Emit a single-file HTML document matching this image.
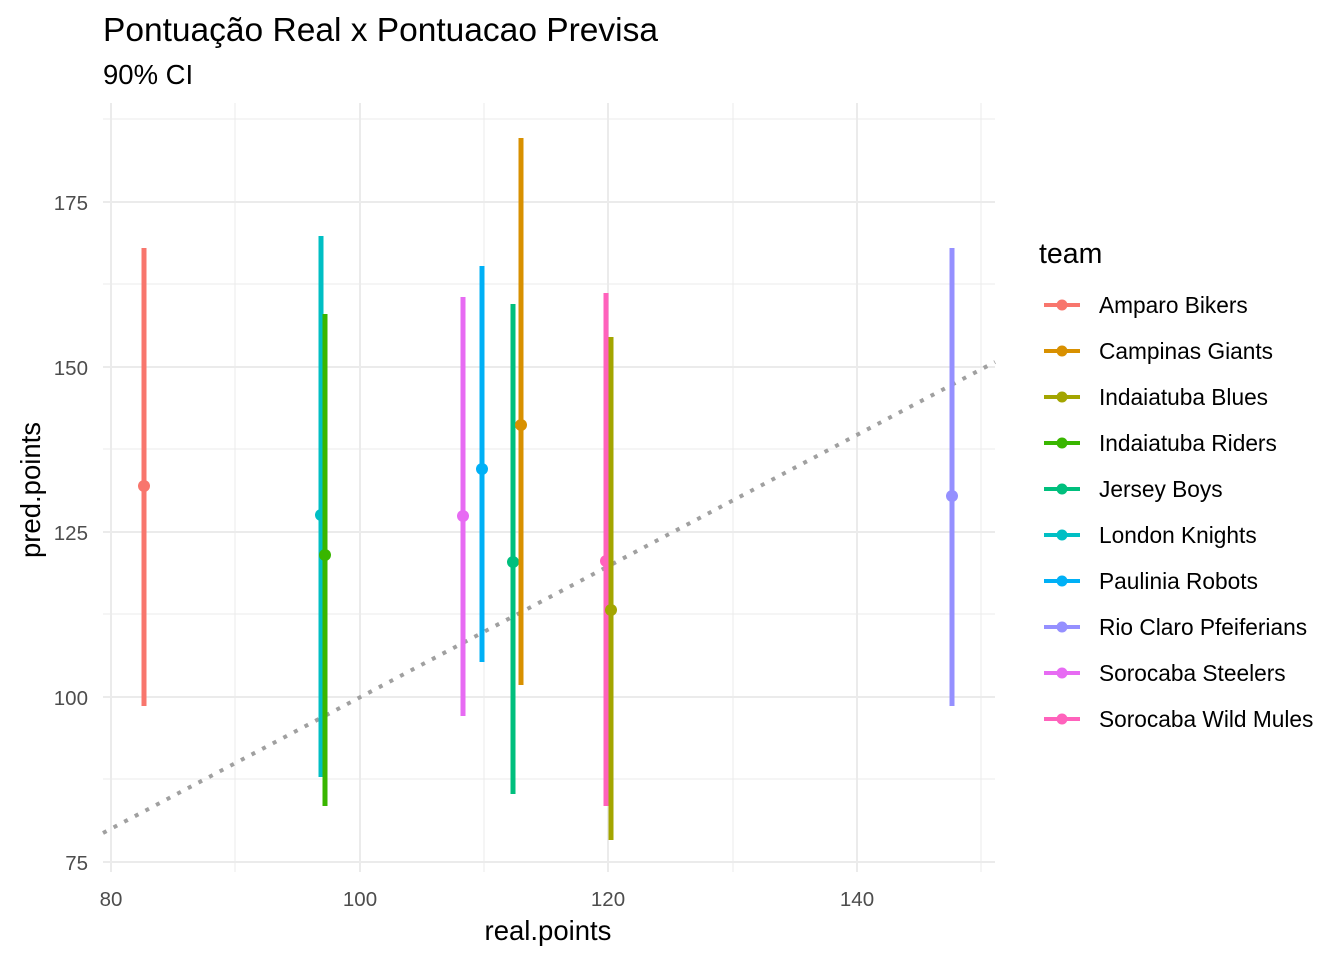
<!DOCTYPE html>
<html><head><meta charset="utf-8"><style>body{margin:0;background:#fff}svg{display:block}</style></head><body>
<svg width="1344" height="960" xmlns="http://www.w3.org/2000/svg" font-family="Liberation Sans, Arial, sans-serif">
<rect width="1344" height="960" fill="#fff"/>
<g stroke="#ebebeb" stroke-width="1">
<line x1="235" y1="103" x2="235" y2="872"/><line x1="484" y1="103" x2="484" y2="872"/><line x1="733" y1="103" x2="733" y2="872"/><line x1="981" y1="103" x2="981" y2="872"/>
<line x1="103" y1="779" x2="995" y2="779"/><line x1="103" y1="614" x2="995" y2="614"/><line x1="103" y1="449" x2="995" y2="449"/><line x1="103" y1="284" x2="995" y2="284"/><line x1="103" y1="119" x2="995" y2="119"/>
</g>
<g stroke="#ebebeb" stroke-width="2">
<line x1="111" y1="103" x2="111" y2="872"/><line x1="360" y1="103" x2="360" y2="872"/><line x1="608" y1="103" x2="608" y2="872"/><line x1="857" y1="103" x2="857" y2="872"/>
<line x1="103" y1="862" x2="995" y2="862"/><line x1="103" y1="697" x2="995" y2="697"/><line x1="103" y1="532" x2="995" y2="532"/><line x1="103" y1="367" x2="995" y2="367"/><line x1="103" y1="202" x2="995" y2="202"/>
</g>
<line x1="103" y1="833" x2="995" y2="362" stroke="#a0a0a0" stroke-width="4" stroke-dasharray="4,8"/>
<g stroke-width="5">
<line x1="144" y1="248" x2="144" y2="706" stroke="#F8766D"/><circle cx="144" cy="486" r="6" fill="#F8766D" stroke="none"/>
<line x1="321" y1="236" x2="321" y2="777" stroke="#00BFC4"/><circle cx="321" cy="515" r="6" fill="#00BFC4" stroke="none"/>
<line x1="325" y1="314" x2="325" y2="806" stroke="#39B600"/><circle cx="325" cy="555" r="6" fill="#39B600" stroke="none"/>
<line x1="463" y1="297" x2="463" y2="716" stroke="#E76BF3"/><circle cx="463" cy="516" r="6" fill="#E76BF3" stroke="none"/>
<line x1="482" y1="266" x2="482" y2="662" stroke="#00B0F6"/><circle cx="482" cy="469" r="6" fill="#00B0F6" stroke="none"/>
<line x1="513" y1="304" x2="513" y2="794" stroke="#00BF7D"/><circle cx="513" cy="562" r="6" fill="#00BF7D" stroke="none"/>
<line x1="521" y1="138" x2="521" y2="685" stroke="#D89000"/><circle cx="521" cy="425" r="6" fill="#D89000" stroke="none"/>
<line x1="606" y1="293" x2="606" y2="806" stroke="#FF62BC"/><circle cx="606" cy="561" r="6" fill="#FF62BC" stroke="none"/>
<line x1="611" y1="337" x2="611" y2="840" stroke="#A3A500"/><circle cx="611" cy="610" r="6" fill="#A3A500" stroke="none"/>
<line x1="952" y1="248" x2="952" y2="706" stroke="#9590FF"/><circle cx="952" cy="496" r="6" fill="#9590FF" stroke="none"/>
</g>
<g fill="#4d4d4d" font-size="20.5" text-anchor="end">
<text x="88" y="870">75</text><text x="88" y="705">100</text><text x="88" y="540">125</text><text x="88" y="375">150</text><text x="88" y="210">175</text>
</g>
<g fill="#4d4d4d" font-size="20.5" text-anchor="middle">
<text x="111" y="906">80</text><text x="360" y="906">100</text><text x="608" y="906">120</text><text x="857" y="906">140</text>
</g>
<text x="548" y="940" font-size="27.5" text-anchor="middle">real.points</text>
<text transform="translate(40,490) rotate(-90)" font-size="27.5" text-anchor="middle">pred.points</text>
<text x="103" y="41" font-size="33.5">Pontuação Real x Pontuacao Previsa</text>
<text x="103" y="84" font-size="27.5">90% CI</text>
<text x="1039" y="263" font-size="28.5">team</text>
<g font-size="22.7">
<g transform="translate(0,305)"><line x1="1044" x2="1080" stroke="#F8766D" stroke-width="4"/><circle cx="1062" r="5.5" fill="#F8766D"/><text x="1099" y="8">Amparo Bikers</text></g>
<g transform="translate(0,351)"><line x1="1044" x2="1080" stroke="#D89000" stroke-width="4"/><circle cx="1062" r="5.5" fill="#D89000"/><text x="1099" y="8">Campinas Giants</text></g>
<g transform="translate(0,397)"><line x1="1044" x2="1080" stroke="#A3A500" stroke-width="4"/><circle cx="1062" r="5.5" fill="#A3A500"/><text x="1099" y="8">Indaiatuba Blues</text></g>
<g transform="translate(0,443)"><line x1="1044" x2="1080" stroke="#39B600" stroke-width="4"/><circle cx="1062" r="5.5" fill="#39B600"/><text x="1099" y="8">Indaiatuba Riders</text></g>
<g transform="translate(0,489)"><line x1="1044" x2="1080" stroke="#00BF7D" stroke-width="4"/><circle cx="1062" r="5.5" fill="#00BF7D"/><text x="1099" y="8">Jersey Boys</text></g>
<g transform="translate(0,535)"><line x1="1044" x2="1080" stroke="#00BFC4" stroke-width="4"/><circle cx="1062" r="5.5" fill="#00BFC4"/><text x="1099" y="8">London Knights</text></g>
<g transform="translate(0,581)"><line x1="1044" x2="1080" stroke="#00B0F6" stroke-width="4"/><circle cx="1062" r="5.5" fill="#00B0F6"/><text x="1099" y="8">Paulinia Robots</text></g>
<g transform="translate(0,627)"><line x1="1044" x2="1080" stroke="#9590FF" stroke-width="4"/><circle cx="1062" r="5.5" fill="#9590FF"/><text x="1099" y="8">Rio Claro Pfeiferians</text></g>
<g transform="translate(0,673)"><line x1="1044" x2="1080" stroke="#E76BF3" stroke-width="4"/><circle cx="1062" r="5.5" fill="#E76BF3"/><text x="1099" y="8">Sorocaba Steelers</text></g>
<g transform="translate(0,719)"><line x1="1044" x2="1080" stroke="#FF62BC" stroke-width="4"/><circle cx="1062" r="5.5" fill="#FF62BC"/><text x="1099" y="8">Sorocaba Wild Mules</text></g>
</g>
</svg>
</body></html>
